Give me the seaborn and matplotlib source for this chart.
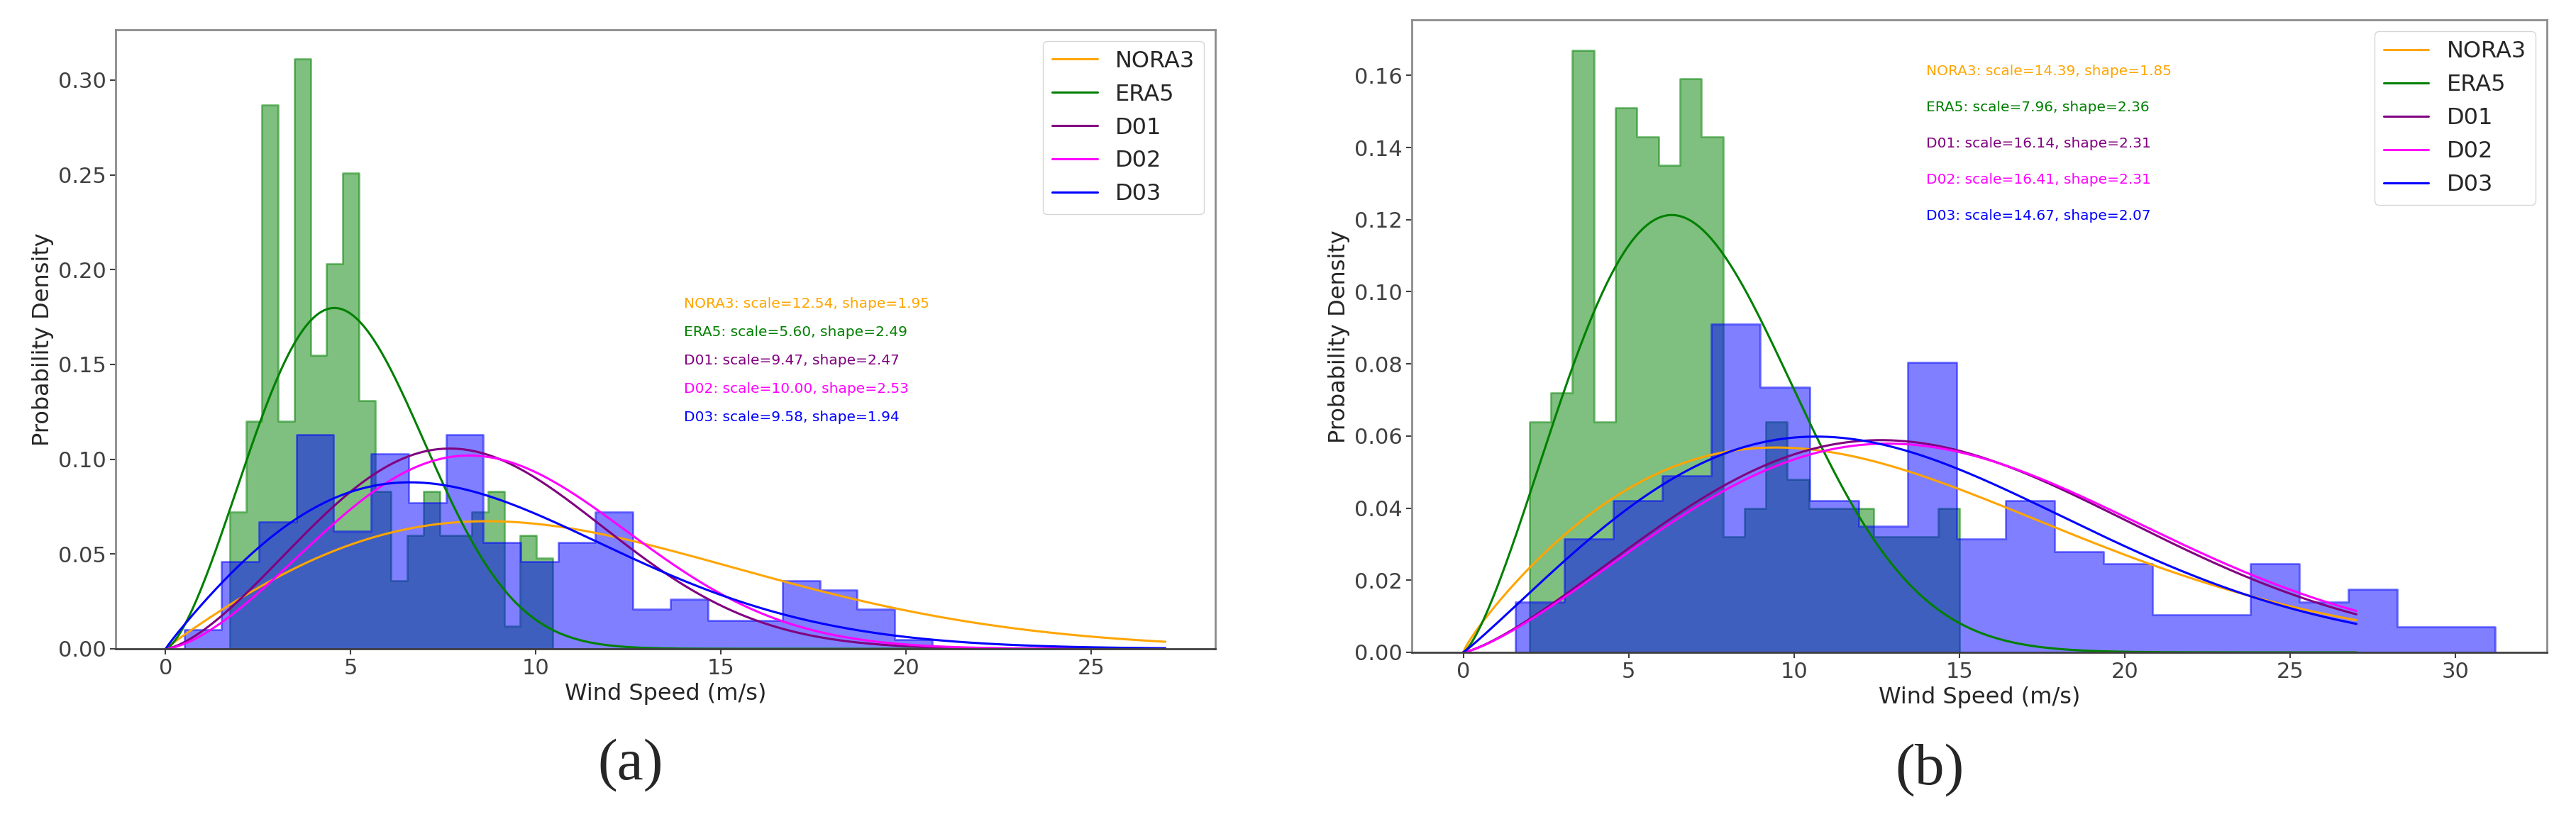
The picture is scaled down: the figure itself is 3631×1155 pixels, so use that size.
import numpy as np
import pandas as pd
import matplotlib
matplotlib.use("Agg")
import matplotlib.pyplot as plt
from matplotlib.colors import to_rgba
import seaborn as sns

# Weibull fits shown in the legend / annotations
names = ["NORA3", "ERA5", "D01", "D02", "D03"]
colors = ["orange", "green", "purple", "magenta", "blue"]
scale_a = [12.54, 5.60, 9.47, 10.00, 9.58]
shape_a = [1.95, 2.49, 2.47, 2.53, 1.94]
scale_b = [14.39, 7.96, 16.14, 16.41, 14.67]
shape_b = [1.85, 2.36, 2.31, 2.31, 2.07]
speed_max = 27.0

# histogram densities, 20 equal bins each
era5_a_start, era5_a_width = 1.73, 0.436
era5_a = [0.072, 0.120, 0.287, 0.120, 0.311, 0.155, 0.203, 0.251, 0.131, 0.083,
          0.036, 0.060, 0.083, 0.060, 0.060, 0.072, 0.083, 0.012, 0.060, 0.048]
d03_a_start, d03_a_width = 0.5, 1.01
d03_a = [0.010, 0.046, 0.067, 0.113, 0.062, 0.103, 0.077, 0.113, 0.056, 0.046,
         0.056, 0.072, 0.021, 0.026, 0.015, 0.015, 0.036, 0.031, 0.021, 0.005]

era5_b_start, era5_b_width = 2.0, 0.65
era5_b = [0.064, 0.072, 0.167, 0.064, 0.151, 0.143, 0.135, 0.159, 0.143, 0.032,
          0.040, 0.064, 0.048, 0.040, 0.040, 0.040, 0.032, 0.032, 0.032, 0.040]
d03_b_start, d03_b_width = 1.58, 1.481
d03_b = [0.014, 0.0315, 0.042, 0.049, 0.091, 0.0735, 0.042, 0.035, 0.0805, 0.0315,
         0.042, 0.028, 0.0245, 0.0105, 0.0105, 0.0245, 0.014, 0.0175, 0.007, 0.007]


def weibull_pdf(x, lam, k):
    return (k / lam) * (x / lam) ** (k - 1) * np.exp(-(x / lam) ** k)


def draw_hist(ax, start, width, dens, color):
    edges = start + width * np.arange(len(dens) + 1)
    df = pd.DataFrame({"speed": edges[:-1] + width / 2, "density": dens})
    sns.histplot(data=df, x="speed", weights="density", bins=edges.tolist(), stat="count",
                 element="step", color=color, alpha=0.5, linewidth=2,
                 edgecolor=to_rgba(color, 0.5), ax=ax)


def draw_panel(ax, hists, scales, shapes, text_y):
    for start, width, dens, color in hists:
        draw_hist(ax, start, width, dens, color)
    xs = np.linspace(0, speed_max, 400)
    for name, color, lam, k in zip(names, colors, scales, shapes):
        sns.lineplot(x=xs, y=weibull_pdf(xs, lam, k), color=color, lw=2.2, label=name, ax=ax)
    for name, color, lam, k, ty in zip(names, colors, scales, shapes, text_y):
        ax.text(14, ty, f"{name}: scale={lam:.2f}, shape={k:.2f}", color=color, fontsize=14.5)
    ax.set_xlabel("Wind Speed (m/s)", fontsize=23)
    ax.set_ylabel("Probability Density", fontsize=23)
    ax.tick_params(labelsize=22, length=6, width=1.5, colors="0.25")
    ax.legend(loc="upper right", fontsize=23)
    for s in ax.spines.values():
        s.set_color("0.55")
        s.set_linewidth(2)
    ax.spines["bottom"].set_color("0.25")


sns.set_style("ticks")
plt.rcParams["font.family"] = ["DejaVu Sans"]

fig = plt.figure(figsize=(36.31, 11.55), dpi=100)
ax_a = fig.add_axes([0.0449, 0.2078, 0.4269, 0.756])
ax_b = fig.add_axes([0.5480, 0.2035, 0.4407, 0.772])

draw_panel(ax_a,
           [(era5_a_start, era5_a_width, era5_a, "green"), (d03_a_start, d03_a_width, d03_a, "blue")],
           scale_a, shape_a, [0.18, 0.165, 0.15, 0.135, 0.12])
draw_panel(ax_b,
           [(era5_b_start, era5_b_width, era5_b, "green"), (d03_b_start, d03_b_width, d03_b, "blue")],
           scale_b, shape_b, [0.16, 0.15, 0.14, 0.13, 0.12])

fig.text(889 / 3631, 1 - 1080 / 1155, "(a)", ha="center", va="center",
         fontsize=60, family="Liberation Serif")
fig.text(2720 / 3631, 1 - 1087 / 1155, "(b)", ha="center", va="center",
         fontsize=60, family="Liberation Serif")

fig.savefig("out.png", dpi=100)
